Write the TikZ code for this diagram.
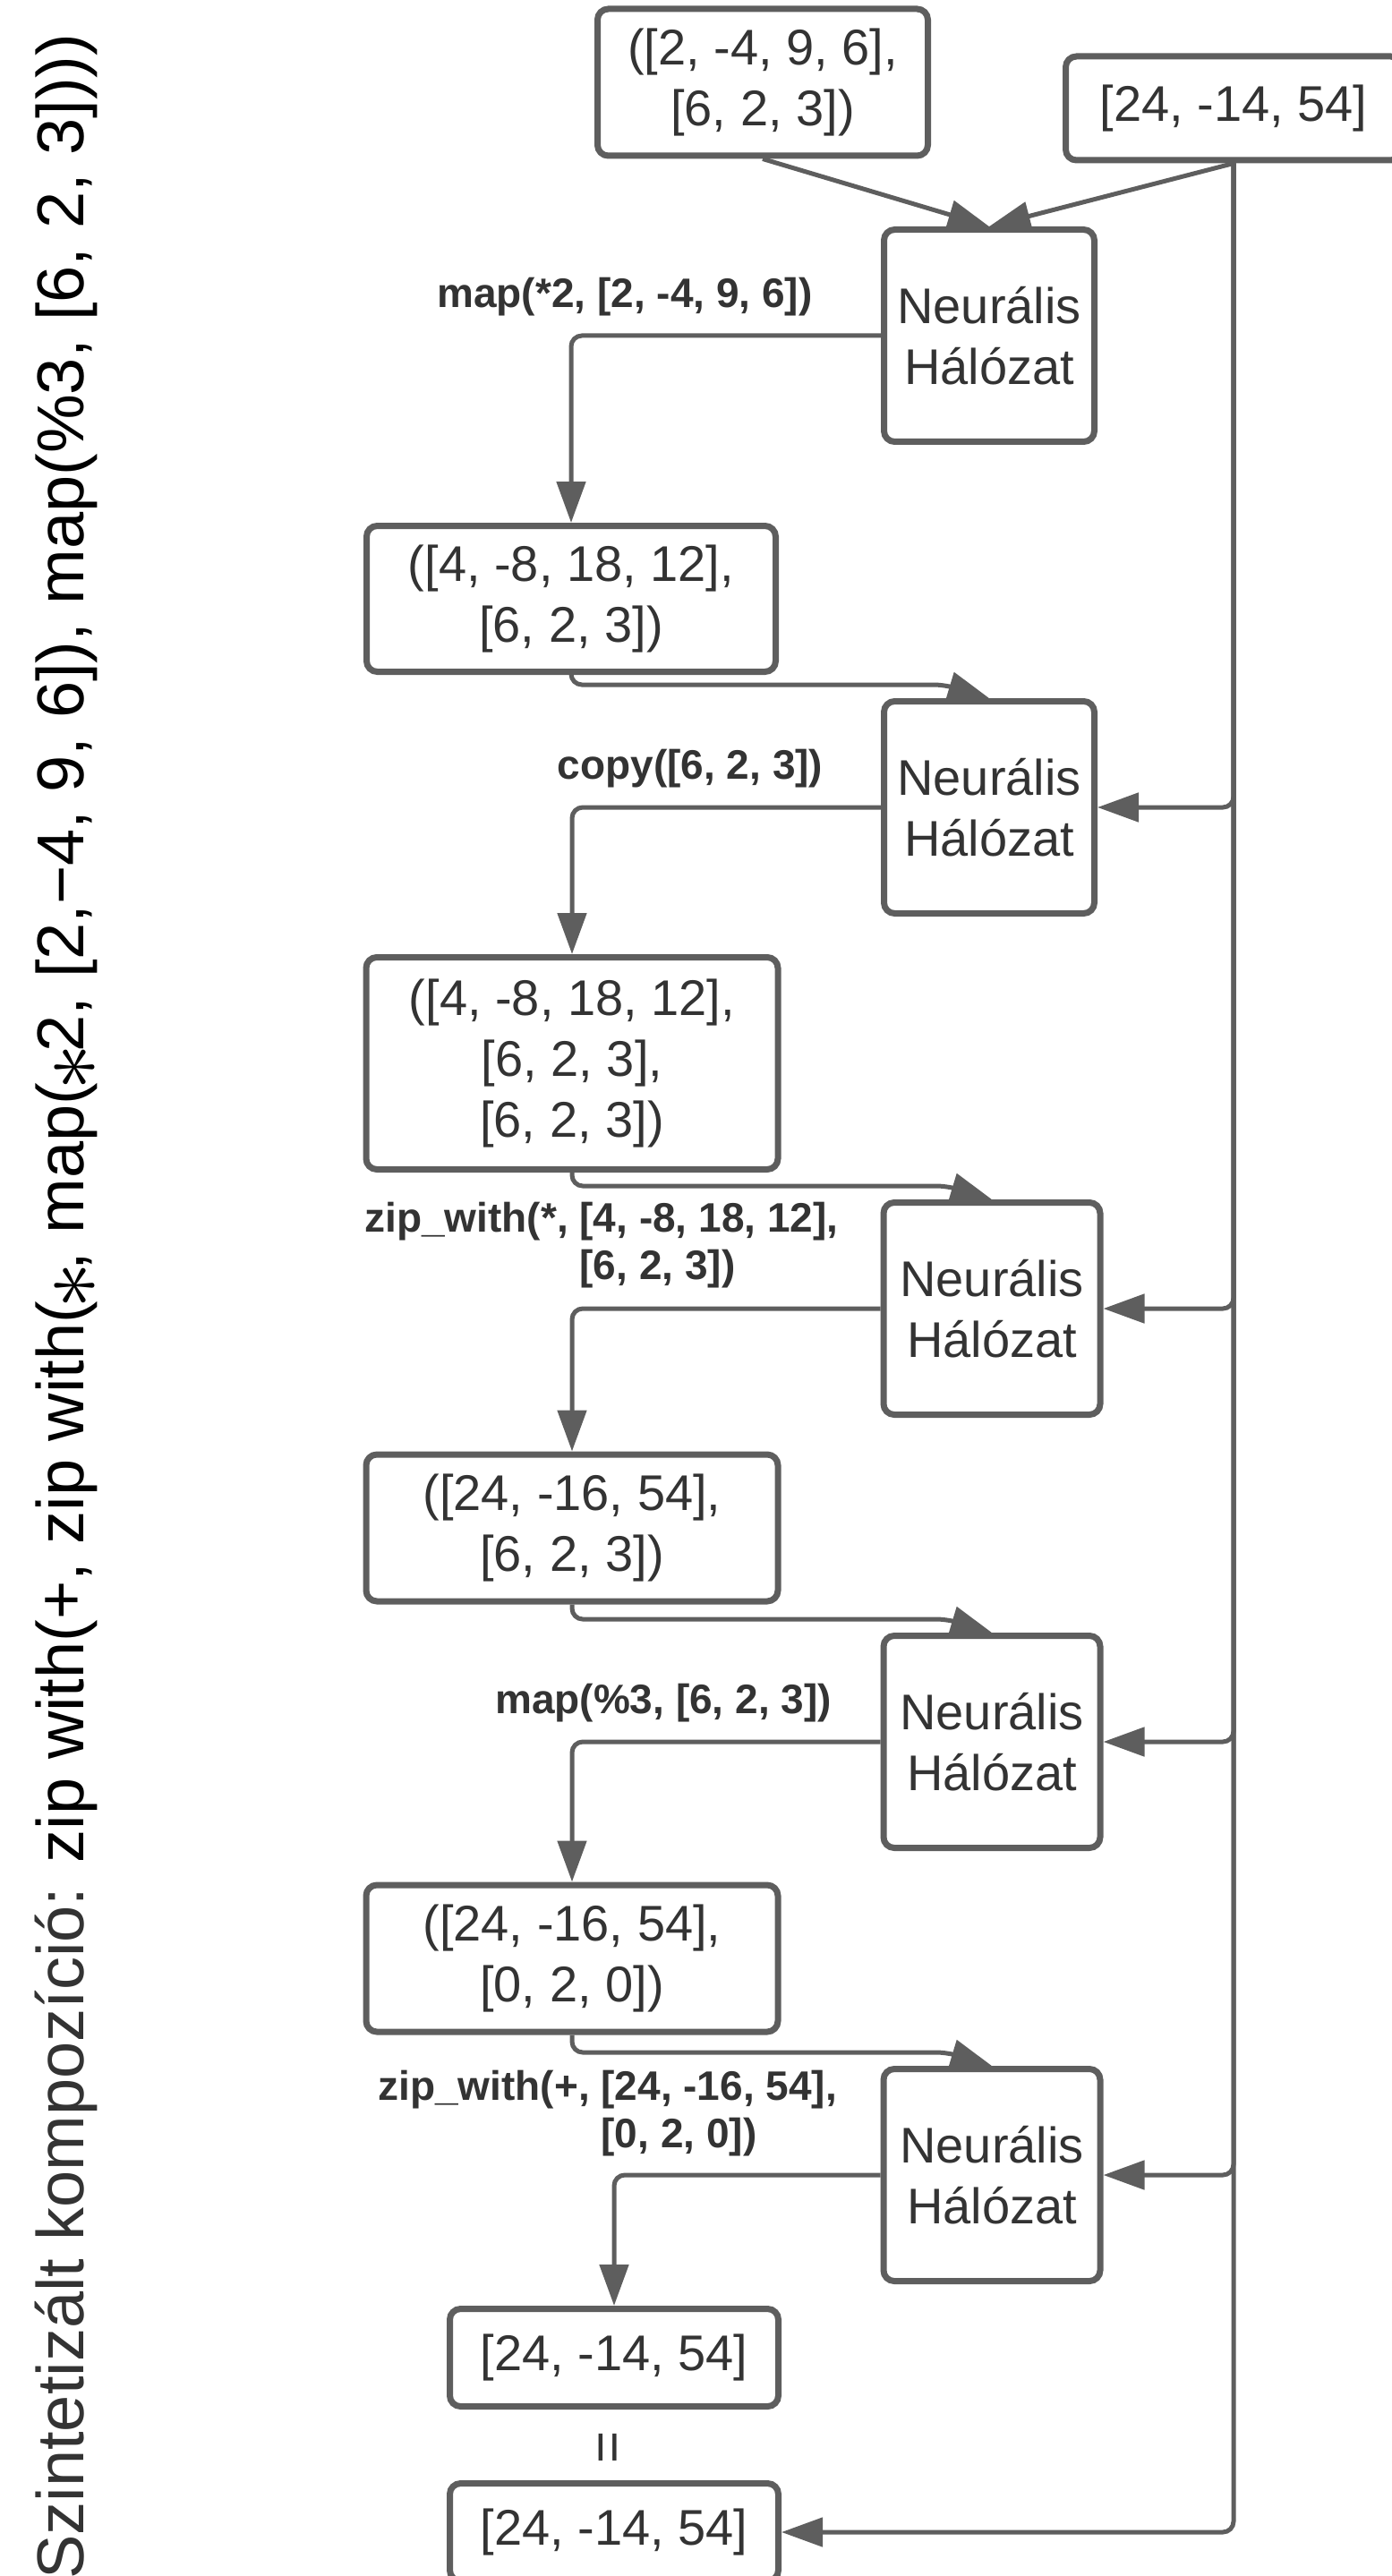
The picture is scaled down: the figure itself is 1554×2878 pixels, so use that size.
\documentclass[tikz,border=0pt]{standalone}
\usepackage{fontspec}
\setmainfont{Liberation Sans}
\usetikzlibrary{arrows.meta,positioning,calc}

\definecolor{vonal}{HTML}{5E5E5E}
\definecolor{szoveg}{HTML}{333333}

\tikzset{
  doboz/.style={draw=vonal, line width=3.5pt, rounded corners=6pt, fill=white,
    text=szoveg, align=center, inner sep=0pt,
    font=\fontsize{28}{34}\selectfont},
  halo/.style={doboz, minimum width=121pt, minimum height=118.5pt},
  cimke/.style={text=szoveg, align=left, inner sep=0pt,
    font=\bfseries\fontsize{23}{26.5}\selectfont},
  nyil/.style={draw=vonal, line width=2.5pt, rounded corners=6pt,
    -{Triangle[length=23pt,width=16pt]}},
}
\newcommand{\csillag}{\kern-0.12em\raisebox{-0.22em}{\scalebox{2.1}{$\ast$}}\kern-0.12em}

\begin{document}
\begin{tikzpicture}[x=0.5pt,y=-0.5pt]
  \useasboundingbox (0,0) rectangle (1554,2878);
  \def\nnx{1108}
  \def\kx{639}

  % cim
  \node[rotate=90, anchor=base west, inner sep=0pt,
    font=\fontsize{37}{40}\selectfont] (cim) at (93,2882)
    {\textcolor{szoveg}{Szintetizált kompozíció:} zip with(+, zip with(\csillag, map(\csillag2, [2,−4, 9, 6]), map(\%3, [6, 2, 3])))};

  % bemenetek
  \node[doboz, minimum width=184.5pt, minimum height=82pt] (be) at (852,92)
    {([2, -4, 9, 6],\\{}[6, 2, 3])};
  \node[doboz, minimum width=187.5pt, minimum height=58pt] (ki) at (1378,121)
    {[24, -14, 54]};

  % neuralis halok
  \node[halo, minimum width=117.5pt] (nn1) at (1105,375) {Neurális\\ Hálózat};
  \node[halo, minimum width=117.5pt] (nn2) at (1105,902) {Neurális\\ Hálózat};
  \node[halo] (nn3) at (\nnx,1462) {Neurális\\ Hálózat};
  \node[halo] (nn4) at (\nnx,1946) {Neurális\\ Hálózat};
  \node[halo] (nn5) at (\nnx,2430) {Neurális\\ Hálózat};

  % kozbulso ertekek
  \node[doboz, minimum width=228.5pt, minimum height=81.5pt] (k2) at (638,669)
    {([4, -8, 18, 12],\\{}[6, 2, 3])};
  \node[doboz, minimum width=230pt, minimum height=118.5pt] (k3) at (\kx,1188)
    {([4, -8, 18, 12],\\{}[6, 2, 3],\\{}[6, 2, 3])};
  \node[doboz, minimum width=230pt, minimum height=82pt] (k4) at (\kx,1707)
    {([24, -16, 54],\\{}[6, 2, 3])};
  \node[doboz, minimum width=230pt, minimum height=82pt] (k5) at (\kx,2188)
    {([24, -16, 54],\\{}[0, 2, 0])};
  \node[doboz, minimum width=183.5pt, minimum height=54.5pt] (k6) at (686,2634)
    {[24, -14, 54]};
  \node[doboz, minimum width=183.5pt, minimum height=54.5pt] (k7) at (686,2829)
    {[24, -14, 54]};
  \node[rotate=90, text=szoveg, inner sep=0pt,
    font=\fontsize{31}{34}\selectfont] (egyenlo) at (684,2734) {=};

  % cimkek
  \node[cimke] (c1) at (698,332) {map(*2, [2, -4, 9, 6])};
  \node[cimke] (c2) at (771,859) {copy([6, 2, 3])};
  \node[cimke, anchor=west] (c3) at (407,1391)
    {zip\_with(*, [4, -8, 18, 12],\\ \phantom{zip\_with(*, }[6, 2, 3])};
  \node[cimke] (c4) at (741,1903) {map(\%3, [6, 2, 3])};
  \node[cimke, anchor=west] (c5) at (422,2361)
    {zip\_with(+, [24, -16, 54],\\ \phantom{zip\_with(+, }[0, 2, 0])};

  % nyilak
  \draw[nyil] (be.south) -- (nn1.north);
  \draw[nyil] (ki.south) -- (nn1.north);
  \draw[nyil] (nn1.west) -| (k2.north);
  \draw[nyil] (k2.south) |- ($(nn2.north)+(-50,-15)$) -- (nn2.north);
  \draw[nyil] (nn2.west) -| (k3.north);
  \draw[nyil] (k3.south) |- ($(nn3.north)+(-50,-15)$) -- (nn3.north);
  \draw[nyil] (nn3.west) -| (k4.north);
  \draw[nyil] (k4.south) |- ($(nn4.north)+(-50,-15)$) -- (nn4.north);
  \draw[nyil] (nn4.west) -| (k5.north);
  \draw[nyil] (k5.south) |- ($(nn5.north)+(-50,-15)$) -- (nn5.north);
  \draw[nyil] (nn5.west) -| (k6.north);

  % cel lista mindenhova
  \draw[nyil] (ki.south) |- (nn2.east);
  \draw[nyil] (ki.south) |- (nn3.east);
  \draw[nyil] (ki.south) |- (nn4.east);
  \draw[nyil] (ki.south) |- (nn5.east);
  \draw[nyil] (ki.south) |- (k7.east);
\end{tikzpicture}
\end{document}
